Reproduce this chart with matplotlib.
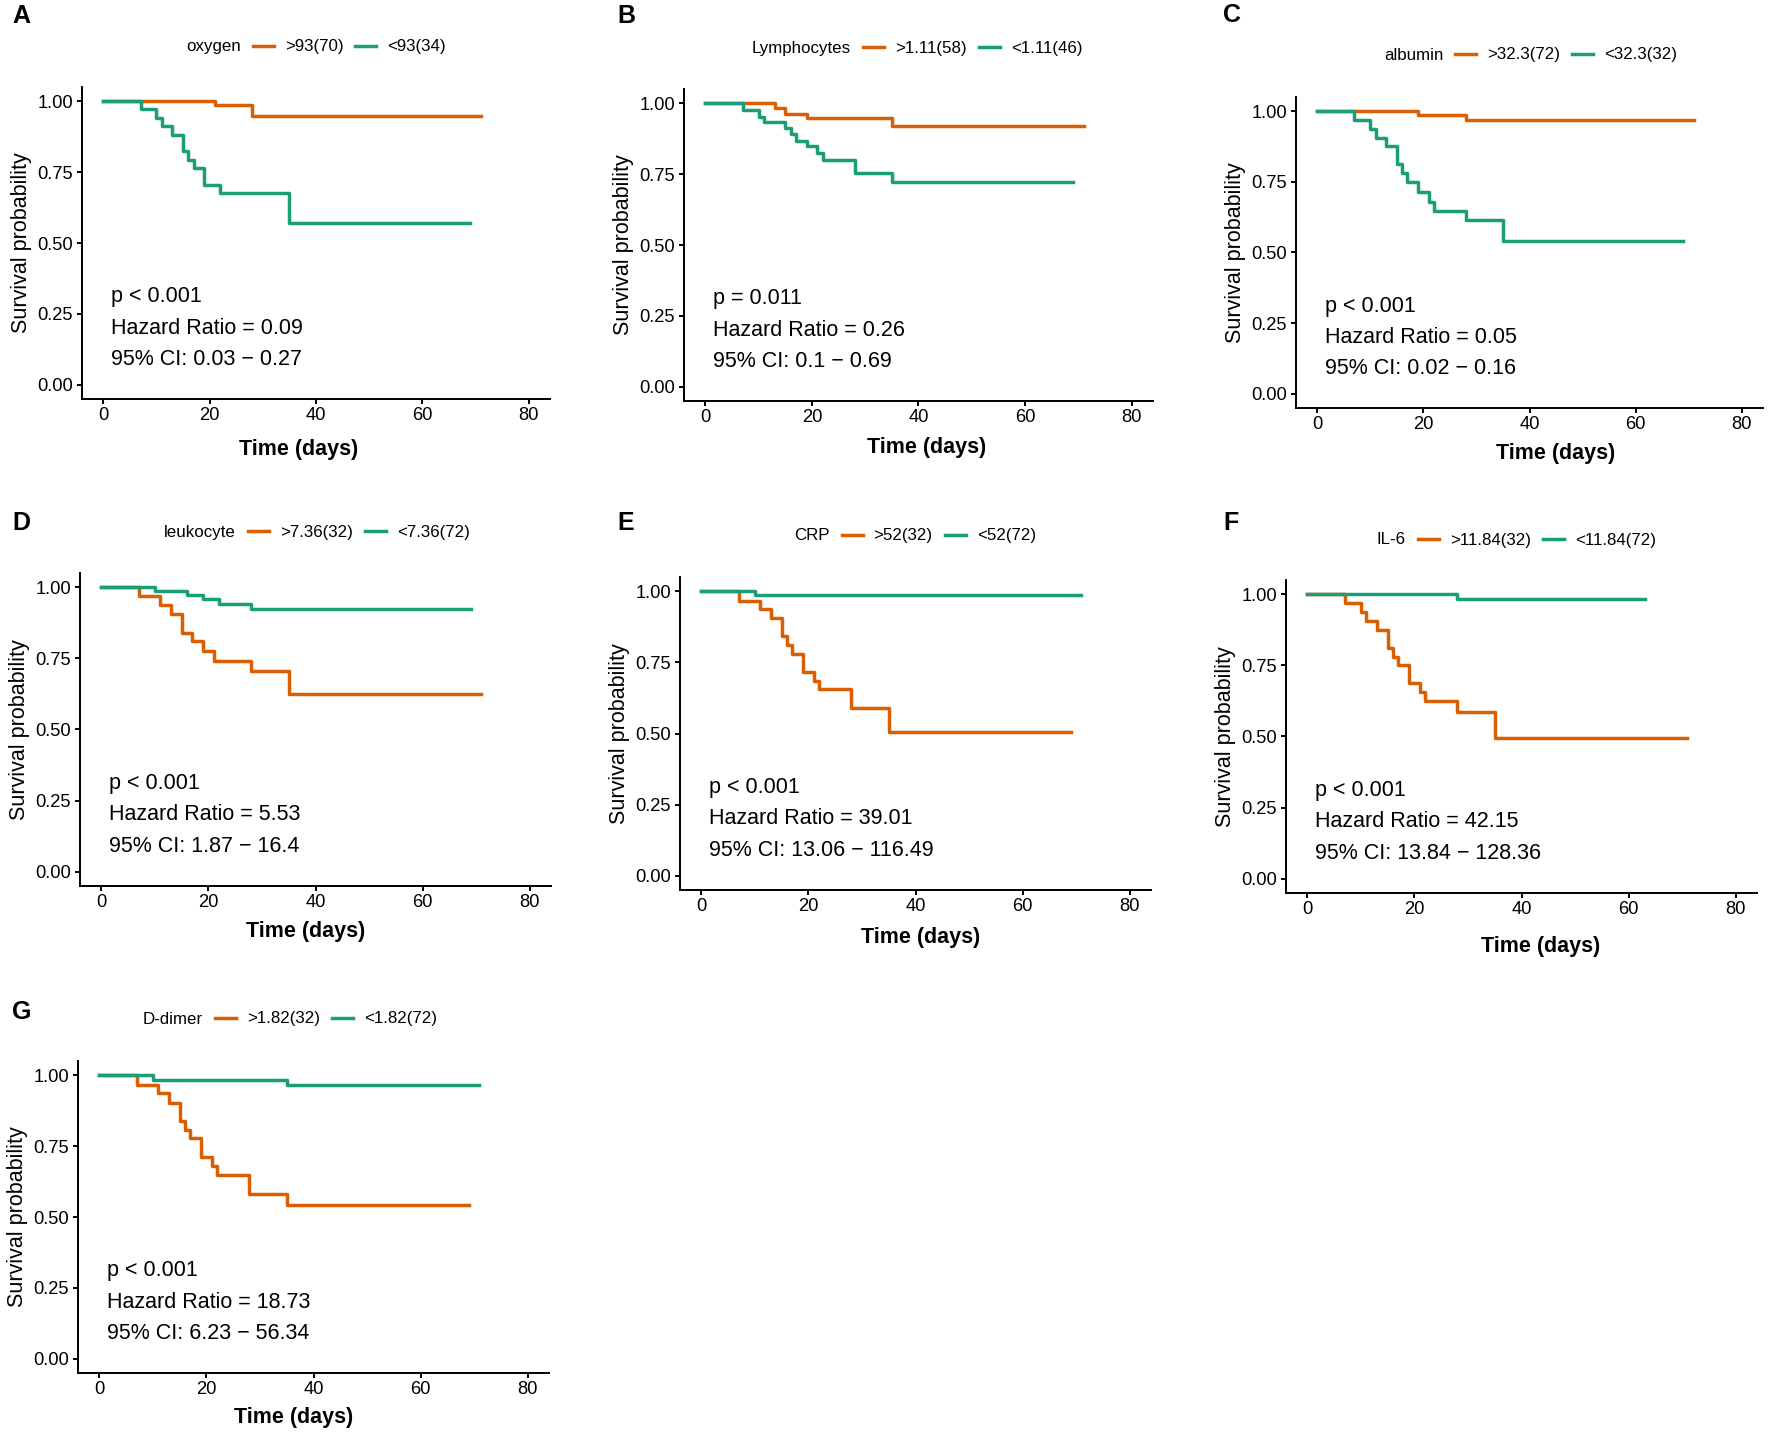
import matplotlib.pyplot as plt
from matplotlib.lines import Line2D

plt.rcParams['font.family'] = ['Liberation Sans', 'DejaVu Sans']

ORANGE = '#D95F02'
GREEN = '#1B9E77'

# survival steps (time in days, survival probability)
oxygen_hi_t = [0, 21, 28, 71]
oxygen_hi_s = [1.0, 0.985, 0.948, 0.948]
oxygen_lo_t = [0, 7, 10, 11, 13, 15, 16, 17, 19, 22, 35, 69]
oxygen_lo_s = [1.0, 0.971, 0.941, 0.912, 0.882, 0.824, 0.794, 0.765, 0.706, 0.676, 0.571, 0.571]

lymph_hi_t = [0, 13, 15, 19, 35, 71]
lymph_hi_s = [1.0, 0.982, 0.962, 0.946, 0.918, 0.918]
lymph_lo_t = [0, 7, 10, 11, 15, 16, 17, 19, 21, 22, 28, 35, 69]
lymph_lo_s = [1.0, 0.977, 0.952, 0.932, 0.911, 0.89, 0.868, 0.848, 0.823, 0.80, 0.753, 0.723, 0.723]

alb_hi_t = [0, 19, 28, 71]
alb_hi_s = [1.0, 0.986, 0.967, 0.967]
alb_lo_t = [0, 7, 10, 11, 13, 15, 16, 17, 19, 21, 22, 28, 35, 69]
alb_lo_s = [1.0, 0.969, 0.938, 0.906, 0.875, 0.812, 0.781, 0.75, 0.715, 0.68, 0.648, 0.616, 0.54, 0.54]

leuk_hi_t = [0, 7, 11, 13, 15, 17, 19, 21, 28, 35, 71]
leuk_hi_s = [1.0, 0.968, 0.938, 0.906, 0.84, 0.81, 0.776, 0.742, 0.707, 0.624, 0.624]
leuk_lo_t = [0, 10, 16, 19, 22, 28, 69]
leuk_lo_s = [1.0, 0.987, 0.971, 0.958, 0.941, 0.925, 0.925]

crp_hi_t = [0, 7, 11, 13, 15, 16, 17, 19, 21, 22, 28, 35, 69]
crp_hi_s = [1.0, 0.967, 0.937, 0.906, 0.843, 0.812, 0.781, 0.717, 0.685, 0.655, 0.59, 0.505, 0.505]
crp_lo_t = [0, 10, 71]
crp_lo_s = [1.0, 0.985, 0.985]

il6_hi_t = [0, 7, 10, 11, 13, 15, 16, 17, 19, 21, 22, 28, 35, 71]
il6_hi_s = [1.0, 0.968, 0.938, 0.906, 0.875, 0.81, 0.78, 0.75, 0.687, 0.655, 0.624, 0.587, 0.496, 0.496]
il6_lo_t = [0, 28, 63]
il6_lo_s = [1.0, 0.984, 0.984]

dd_hi_t = [0, 7, 11, 13, 15, 16, 17, 19, 21, 22, 28, 35, 69]
dd_hi_s = [1.0, 0.967, 0.936, 0.903, 0.84, 0.808, 0.777, 0.711, 0.68, 0.649, 0.582, 0.541, 0.541]
dd_lo_t = [0, 10, 35, 71]
dd_lo_s = [1.0, 0.984, 0.964, 0.964]

variables = ['oxygen', 'Lymphocytes', 'albumin', 'leukocyte', 'CRP', 'IL-6', 'D-dimer']
hi_labels = ['>93(70)', '>1.11(58)', '>32.3(72)', '>7.36(32)', '>52(32)', '>11.84(32)', '>1.82(32)']
lo_labels = ['<93(34)', '<1.11(46)', '<32.3(32)', '<7.36(72)', '<52(72)', '<11.84(72)', '<1.82(72)']
p_texts = ['p < 0.001', 'p = 0.011', 'p < 0.001', 'p < 0.001', 'p < 0.001', 'p < 0.001', 'p < 0.001']
hr_texts = ['0.09', '0.26', '0.05', '5.53', '39.01', '42.15', '18.73']
ci_texts = ['0.03 \u2212 0.27', '0.1 \u2212 0.69', '0.02 \u2212 0.16', '1.87 \u2212 16.4',
            '13.06 \u2212 116.49', '13.84 \u2212 128.36', '6.23 \u2212 56.34']
letters = ['A', 'B', 'C', 'D', 'E', 'F', 'G']

curves = [
    (oxygen_hi_t, oxygen_hi_s, oxygen_lo_t, oxygen_lo_s),
    (lymph_hi_t, lymph_hi_s, lymph_lo_t, lymph_lo_s),
    (alb_hi_t, alb_hi_s, alb_lo_t, alb_lo_s),
    (leuk_hi_t, leuk_hi_s, leuk_lo_t, leuk_lo_s),
    (crp_hi_t, crp_hi_s, crp_lo_t, crp_lo_s),
    (il6_hi_t, il6_hi_s, il6_lo_t, il6_lo_s),
    (dd_hi_t, dd_hi_s, dd_lo_t, dd_lo_s),
]

# layout in pixels: axes (left, right, top, bottom), panel letter, legend start
W, H = 1772, 1435
axes_px = [(82, 550, 87, 399), (684, 1153, 89, 401), (1296, 1763, 97, 408),
           (80, 551, 573, 886), (680, 1151, 577, 890), (1286, 1757, 580, 893),
           (78, 549, 1061, 1373)]
letter_px = [(12, 16), (617, 16), (1223, 15), (12, 523), (617, 523), (1223, 523), (12, 1012)]
legend_px = [(186, 47), (752, 48), (1384, 55), (164, 532), (794, 536), (1377, 540), (143, 1019)]
# x-title centre (in days) and its distance below the axis line (px)
xtitle_pos = [(36.7, 50), (41.5, 47), (45.0, 46), (38.2, 46), (41.0, 47), (43.5, 54), (36.3, 44)]

LW = 2.5
TICK_FS = 13.2
TEXT_FS = 15.5
LEG_FS = 12.2

fig = plt.figure(figsize=(W / 100, H / 100), dpi=100)

for i in range(7):
    l, r, t, b = axes_px[i]
    ax = fig.add_axes([l / W, 1 - b / H, (r - l) / W, (b - t) / H])
    hi_t, hi_s, lo_t, lo_s = curves[i]
    ax.step(hi_t, hi_s, where='post', color=ORANGE, lw=LW)
    ax.step(lo_t, lo_s, where='post', color=GREEN, lw=LW)

    ax.set_xlim(-4, 84)
    ax.set_ylim(-0.05, 1.05)
    ax.set_xticks([0, 20, 40, 60, 80])
    ax.set_yticks([0, 0.25, 0.5, 0.75, 1.0])
    ax.set_yticklabels(['0.00', '0.25', '0.50', '0.75', '1.00'])
    for side in ['top', 'right']:
        ax.spines[side].set_visible(False)
    for side in ['left', 'bottom']:
        ax.spines[side].set_linewidth(1.4)
    ax.tick_params(axis='both', labelsize=TICK_FS, width=1.4, length=3.6, color='black')
    ax.tick_params(axis='x', pad=2.5)
    ax.tick_params(axis='y', pad=3)
    ax.set_ylabel('Survival probability', fontsize=TEXT_FS, labelpad=4)
    ax.set_xlabel('Time (days)', fontsize=TEXT_FS, fontweight='bold')
    xd, off = xtitle_pos[i]
    ax.xaxis.label.set_va('center')
    ax.xaxis.set_label_coords((xd + 4) / 88, -off / (b - t))

    ax.text(1.5, 0.31, p_texts[i], fontsize=TEXT_FS, va='center')
    ax.text(1.5, 0.20, 'Hazard Ratio = ' + hr_texts[i], fontsize=TEXT_FS, va='center')
    ax.text(1.5, 0.09, '95% CI: ' + ci_texts[i], fontsize=TEXT_FS, va='center')

    lx, ly = letter_px[i]
    fig.text(lx / W, 1 - ly / H, letters[i], fontsize=18, fontweight='bold', va='center', ha='left')

    # legend: invisible handle for the title, then the two strata
    fs_px = LEG_FS * 100 / 72
    hl, tp = 21, 11
    handles = [Line2D([], [], color='none'),
               Line2D([0], [0], color=ORANGE, lw=LW),
               Line2D([0], [0], color=GREEN, lw=LW)]
    labels = [variables[i], hi_labels[i], lo_labels[i]]
    gx, gy = legend_px[i]
    ax.legend(handles, labels, ncol=3, loc='center left', frameon=False,
              bbox_to_anchor=((gx - hl - tp) / W, 1 - gy / H), bbox_transform=fig.transFigure,
              fontsize=LEG_FS, handlelength=hl / fs_px, handletextpad=tp / fs_px,
              columnspacing=12 / fs_px, borderpad=0, borderaxespad=0)

fig.savefig('out.png', dpi=100)
